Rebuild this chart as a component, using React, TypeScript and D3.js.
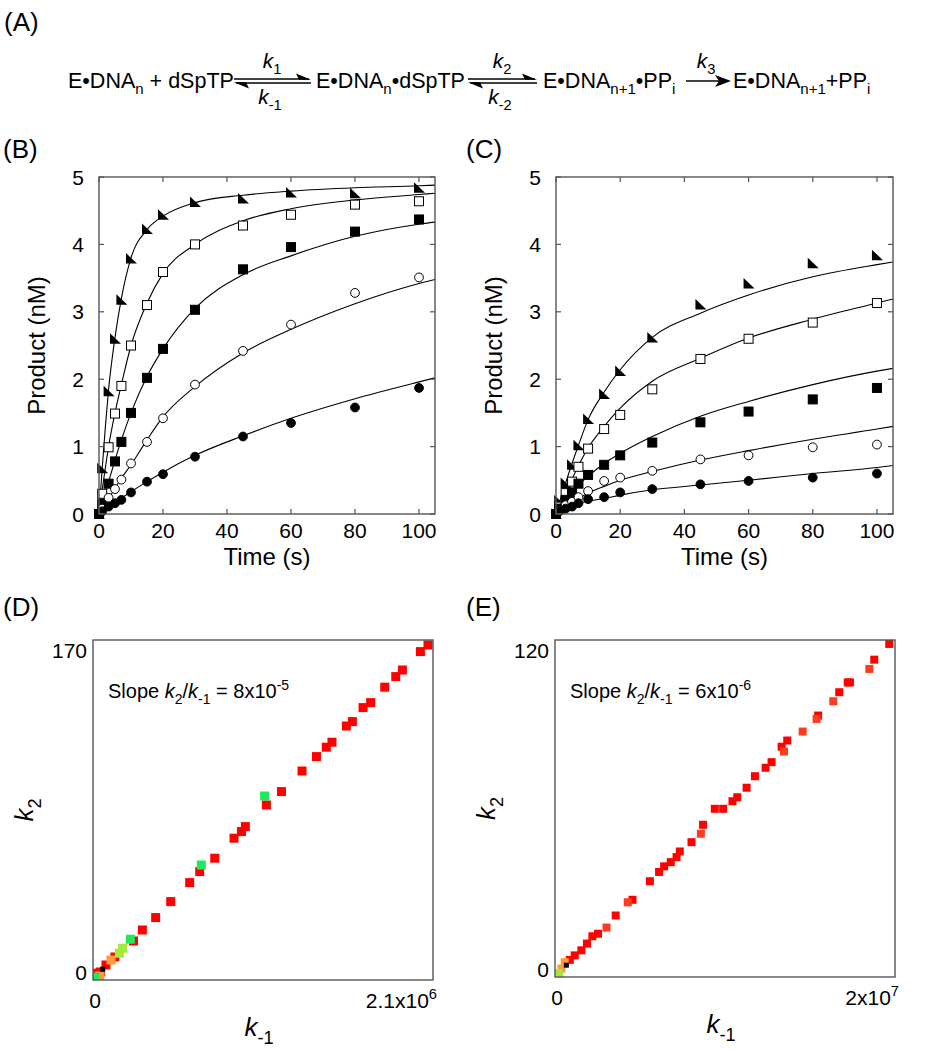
import React from 'react';
import * as d3 from 'd3';

const FONT = 'Arial, "Liberation Sans", Helvetica, sans-serif';

// ---------- Panels B & C: time courses ----------
const times = [0, 1, 3, 5, 7, 10, 15, 20, 30, 45, 60, 80, 100];

const bTri = [0, 0.68, 1.82, 2.6, 3.18, 3.79, 4.23, 4.44, 4.63, 4.68, 4.77, 4.76, 4.84];
const bOpenSq = [0, 0.3, 0.99, 1.49, 1.9, 2.5, 3.1, 3.59, 4.0, 4.28, 4.44, 4.59, 4.64];
const bFillSq = [0, 0.15, 0.45, 0.78, 1.07, 1.5, 2.02, 2.45, 3.03, 3.63, 3.96, 4.19, 4.37];
const bOpenCirc = [0, 0.08, 0.24, 0.37, 0.51, 0.75, 1.07, 1.42, 1.92, 2.42, 2.81, 3.28, 3.51];
const bFillCirc = [0, 0.04, 0.11, 0.16, 0.21, 0.32, 0.48, 0.59, 0.85, 1.15, 1.35, 1.58, 1.87];

const cTri = [0, 0.2, 0.46, 0.73, 1.02, 1.41, 1.78, 2.12, 2.62, 3.11, 3.42, 3.72, 3.84];
const cOpenSq = [0, 0.11, 0.31, 0.48, 0.7, 0.97, 1.26, 1.47, 1.85, 2.3, 2.6, 2.84, 3.13];
const cFillSq = [0, 0.08, 0.21, 0.32, 0.45, 0.58, 0.73, 0.87, 1.06, 1.36, 1.52, 1.7, 1.87];
const cOpenCirc = [0, 0.05, 0.13, 0.18, 0.25, 0.34, 0.49, 0.54, 0.64, 0.81, 0.87, 0.99, 1.03];
const cFillCirc = [0, 0.04, 0.08, 0.11, 0.16, 0.22, 0.25, 0.32, 0.37, 0.44, 0.49, 0.54, 0.6];

// fitted curves
const fitTimes = [0, 1, 2, 3, 5, 7, 10, 15, 20, 30, 45, 60, 80, 100, 105];
const bFitTri = [0, 0.68, 1.3, 1.85, 2.62, 3.2, 3.8, 4.22, 4.42, 4.62, 4.73, 4.79, 4.84, 4.87, 4.88];
const bFitOpenSq = [0, 0.36, 0.69, 1.0, 1.5, 1.92, 2.5, 3.13, 3.57, 4.0, 4.35, 4.53, 4.66, 4.74, 4.76];
const bFitFillSq = [0, 0.17, 0.33, 0.48, 0.8, 1.1, 1.5, 2.04, 2.45, 3.05, 3.55, 3.83, 4.12, 4.3, 4.33];
const bFitOpenCirc = [0, 0.08, 0.16, 0.23, 0.38, 0.53, 0.73, 1.1, 1.44, 1.89, 2.39, 2.74, 3.12, 3.42, 3.48];
const bFitFillCirc = [0, 0.035, 0.07, 0.105, 0.17, 0.235, 0.33, 0.48, 0.62, 0.87, 1.16, 1.42, 1.71, 1.96, 2.02];

const cFitTri = [0, 0.16, 0.31, 0.46, 0.75, 1.02, 1.4, 1.81, 2.14, 2.62, 2.98, 3.25, 3.52, 3.7, 3.74];
const cFitOpenSq = [0, 0.11, 0.21, 0.32, 0.52, 0.72, 0.98, 1.3, 1.57, 1.97, 2.31, 2.61, 2.89, 3.13, 3.19];
const cFitFillSq = [0, 0.07, 0.14, 0.21, 0.33, 0.43, 0.56, 0.75, 0.9, 1.15, 1.45, 1.67, 1.92, 2.12, 2.16];
const cFitOpenCirc = [0, 0.04, 0.075, 0.11, 0.18, 0.23, 0.31, 0.41, 0.5, 0.63, 0.8, 0.94, 1.11, 1.26, 1.3];
const cFitFillCirc = [0, 0.03, 0.06, 0.09, 0.13, 0.16, 0.19, 0.23, 0.28, 0.36, 0.43, 0.5, 0.6, 0.69, 0.72];

const timeTicks = [0, 20, 40, 60, 80, 100];
const productTicks = [0, 1, 2, 3, 4, 5];
const markerKinds = ['tri', 'openSq', 'fillSq', 'openCirc', 'fillCirc'];

// ---------- Panels D & E: confidence contour scatter ----------
const dKm1 = [2.069e6, 2.022e6, 1.911e6, 1.87e6, 1.802e6, 1.715e6, 1.668e6, 1.602e6, 1.565e6, 1.476e6, 1.441e6, 1.38e6, 1.291e6, 1.164e6, 1.071e6, 0.941e6, 0.917e6, 0.871e6, 0.752e6, 0.659e6, 0.597e6, 0.48e6, 0.387e6, 0.305e6, 0.25e6, 0.135e6, 0.08e6, 0.045e6, 0.029e6, 0.111e6, 0.041e6, 0.183e6, 0.163e6, 1.06e6, 0.669e6, 0.231e6, 0.012e6, 0.06e6];
const dK2 = [167.5, 164.2, 155, 151.7, 146.4, 138.7, 136.2, 129.2, 127, 118.9, 116.4, 111.7, 104.5, 94.2, 87.5, 76.7, 74.2, 70.9, 60.9, 54.2, 48.7, 39.2, 31.2, 25, 19.5, 11.5, 7.5, 4, 3.4, 10, 2, 15.9, 13.4, 92, 57.5, 20.4, 1.4, 5.4];
const dKind = ['r', 'r', 'r', 'r', 'r', 'r', 'r', 'r', 'r', 'r', 'r', 'r', 'r', 'r', 'r', 'r', 'r', 'r', 'r', 'r', 'r', 'r', 'r', 'r', 'r', 'r', 'r', 'r', 'r', 'o', 'o', 'lg', 'lg', 'g', 'g', 'g', 'g', 'k'];

const eKm1 = [1.966e7, 1.878e7, 1.849e7, 1.735e7, 1.722e7, 1.672e7, 1.637e7, 1.548e7, 1.539e7, 1.457e7, 1.366e7, 1.333e7, 1.347e7, 1.274e7, 1.239e7, 1.176e7, 1.127e7, 1.072e7, 1.044e7, 0.989e7, 0.94e7, 0.871e7, 0.858e7, 0.803e7, 0.734e7, 0.715e7, 0.681e7, 0.642e7, 0.612e7, 0.558e7, 0.456e7, 0.428e7, 0.357e7, 0.303e7, 0.253e7, 0.22e7, 0.188e7, 0.155e7, 0.116e7, 0.087e7, 0.057e7, 0.038e7, 0.024e7, 0.067e7];
const eK2 = [118.6, 113, 109.7, 104.9, 104.9, 101.4, 98.2, 93.1, 91.9, 87.4, 84.2, 82, 80.3, 76.5, 74.5, 71.5, 67.4, 64, 62.6, 59.9, 59.9, 54.2, 51, 48, 44.7, 42.7, 40.9, 39.4, 37.4, 34.1, 27.5, 26.6, 21.9, 17.6, 15.4, 14.5, 11.9, 9.5, 7.7, 6.1, 5.3, 3.0, 1.4, 4.2];
const eKind = ['r', 'r', 'r2', 'r', 'r', 'r', 'r2', 'r', 'r2', 'r2', 'r', 'r', 'r2', 'r', 'r', 'r', 'r', 'r', 'r', 'r', 'r', 'r', 'r2', 'r', 'r', 'r', 'r', 'r', 'r', 'r', 'r', 'r2', 'r', 'r2', 'r', 'r', 'r', 'r', 'r', 'r', 'o', 'o', 'lg', 'k'];

const kindColor: Record<string, string> = {
  r: '#ff0000',
  r2: '#ff3a1e',
  o: '#ff9a3c',
  lg: '#a6e83c',
  g: '#1fe85a',
  k: '#000000',
};

type Seg = { t: string; sub?: boolean; sup?: boolean; it?: boolean };

function Rich({ x, y, size, anchor = 'start', segs, rotate }: { x: number; y: number; size: number; anchor?: string; segs: Seg[]; rotate?: number }) {
  let shift = 0;
  const kids = segs.map((s, i) => {
    const target = s.sub ? size * 0.3 : s.sup ? -size * 0.42 : 0;
    const dy = target - shift;
    shift = target;
    return (
      <tspan key={i} dy={dy} fontSize={s.sub || s.sup ? size * 0.7 : size} fontStyle={s.it ? 'italic' : 'normal'}>
        {s.t}
      </tspan>
    );
  });
  return (
    <text
      x={x}
      y={y}
      fontSize={size}
      fontFamily={FONT}
      textAnchor={anchor}
      fill="#000"
      transform={rotate ? `rotate(${rotate},${x},${y})` : undefined}
      style={{ whiteSpace: 'pre' }}
    >
      {kids}
    </text>
  );
}

function EqArrow({ x1, x2, y }: { x1: number; x2: number; y: number }) {
  const yt = y - 2;
  const yb = y + 2;
  return (
    <g>
      <line x1={x1} x2={x2 - 2} y1={yt} y2={yt} stroke="#000" strokeWidth={1.4} />
      <path d={`M${x2},${yt + 0.7} L${x2 - 15},${yt - 5.5} L${x2 - 12},${yt + 0.7} Z`} fill="#000" />
      <line x1={x1 + 2} x2={x2} y1={yb} y2={yb} stroke="#000" strokeWidth={1.4} />
      <path d={`M${x1},${yb - 0.7} L${x1 + 15},${yb + 5.5} L${x1 + 12},${yb - 0.7} Z`} fill="#000" />
    </g>
  );
}

function Marker({ kind, cx, cy }: { kind: string; cx: number; cy: number }) {
  const s = 4.5;
  if (kind === 'tri') {
    return <path d={`M${cx - 5},${cy - 5.5} L${cx - 5},${cy + 5} L${cx + 6},${cy + 5} Z`} fill="#000" />;
  }
  if (kind === 'openSq' || kind === 'fillSq') {
    return (
      <rect x={cx - s} y={cy - s} width={2 * s} height={2 * s} fill={kind === 'fillSq' ? '#000' : '#fff'} stroke="#000" strokeWidth={1} />
    );
  }
  return <circle cx={cx} cy={cy} r={4.4} fill={kind === 'fillCirc' ? '#000' : '#fff'} stroke="#000" strokeWidth={1} />;
}

function KinPanel({ left, top, width, height, data, fits }: { left: number; top: number; width: number; height: number; data: number[][]; fits: number[][] }) {
  const x = d3.scaleLinear().domain([0, 105]).range([left, left + width]);
  const y = d3.scaleLinear().domain([0, 5]).range([top + height, top]);
  const line = d3
    .line<number>()
    .x((_, i) => x(fitTimes[i]))
    .y((v) => y(v))
    .curve(d3.curveMonotoneX);
  const axisColor = '#555';
  const tl = 5;
  const labX = left - 54;
  return (
    <g>
      <defs>
        <clipPath id={`clip${left}`}>
          <rect x={left} y={top - 6} width={width} height={height + 12} />
        </clipPath>
      </defs>
      <g clipPath={`url(#clip${left})`}>
        {fits.map((f, i) => (
          <path key={i} d={line(f) || ''} fill="none" stroke="#000" strokeWidth={1.1} />
        ))}
      </g>
      {data.map((series, si) =>
        series.map((v, i) => <Marker key={`${si}-${i}`} kind={markerKinds[si]} cx={x(times[i])} cy={y(v)} />)
      )}
      <rect x={left} y={top} width={width} height={height} fill="none" stroke={axisColor} strokeWidth={1.4} />
      {timeTicks.map((t) => (
        <g key={`xt${t}`}>
          <line x1={x(t)} x2={x(t)} y1={top + height} y2={top + height - tl} stroke={axisColor} strokeWidth={1.2} />
          <line x1={x(t)} x2={x(t)} y1={top} y2={top + tl} stroke={axisColor} strokeWidth={1.2} />
          <text x={x(t)} y={top + height + 24} fontSize={21} fontFamily={FONT} textAnchor="middle">
            {t}
          </text>
        </g>
      ))}
      {productTicks.map((t) => (
        <g key={`yt${t}`}>
          <line x1={left} x2={left + tl} y1={y(t)} y2={y(t)} stroke={axisColor} strokeWidth={1.2} />
          <line x1={left + width} x2={left + width - tl} y1={y(t)} y2={y(t)} stroke={axisColor} strokeWidth={1.2} />
          <text x={left - 15} y={y(t) + 7.5} fontSize={21} fontFamily={FONT} textAnchor="end">
            {t}
          </text>
        </g>
      ))}
      <text x={left + width / 2} y={top + height + 51} fontSize={24} fontFamily={FONT} textAnchor="middle">
        Time (s)
      </text>
      <text
        x={labX}
        y={top + height / 2}
        fontSize={24}
        fontFamily={FONT}
        textAnchor="middle"
        transform={`rotate(-90,${labX},${top + height / 2})`}
      >
        Product (nM)
      </text>
    </g>
  );
}

function ScatterPanel({
  left, top, width, height, xs, ys, kinds, xMax, yMax, yMaxLabel, xMaxLabel, slopeLabel, size,
}: {
  left: number; top: number; width: number; height: number; xs: number[]; ys: number[]; kinds: string[];
  xMax: number; yMax: number; yMaxLabel: string; xMaxLabel: Seg[]; slopeLabel: Seg[]; size: number;
}) {
  const x = d3.scaleLinear().domain([0, xMax]).range([left, left + width]);
  const y = d3.scaleLinear().domain([0, yMax]).range([top + height, top]);
  const order = d3.range(xs.length);
  return (
    <g>
      <defs>
        <clipPath id={`sclip${left}`}>
          <rect x={left} y={top} width={width} height={height} />
        </clipPath>
      </defs>
      <g clipPath={`url(#sclip${left})`}>
        {order.map((i) => {
          const small = kinds[i] === 'k';
          const s = small ? 5 : size;
          return (
            <rect key={i} x={x(xs[i]) - s / 2} y={y(ys[i]) - s / 2} width={s} height={s} fill={kindColor[kinds[i]]} />
          );
        })}
      </g>
      <rect x={left} y={top} width={width} height={height} fill="none" stroke="#555" strokeWidth={1.4} />
      <text x={left - 6} y={top + 18} fontSize={21} fontFamily={FONT} textAnchor="end">
        {yMaxLabel}
      </text>
      <text x={left - 6} y={top + height} fontSize={21} fontFamily={FONT} textAnchor="end">
        0
      </text>
      <text x={left + 2} y={top + height + 28} fontSize={21} fontFamily={FONT} textAnchor="middle">
        0
      </text>
      <Rich x={left + width + 4} y={top + height + 28} size={21} anchor="end" segs={xMaxLabel} />
      <Rich x={left + width / 2 - 4} y={top + height + 56} size={26} anchor="middle" segs={[{ t: 'k', it: true }, { t: '-1', sub: true }]} />
      <Rich
        x={left - 60}
        y={top + height / 2}
        size={26}
        anchor="middle"
        rotate={-90}
        segs={[{ t: 'k', it: true }, { t: '2', sub: true }]}
      />
      <Rich x={left + 15} y={top + 58} size={20} segs={slopeLabel} />
    </g>
  );
}

export default function App() {
  const mainSize = 21.5;
  const kSize = 21;
  return (
    <svg width={931} height={1050} style={{ position: 'absolute', left: 0, top: 0, background: '#fff' }} fontFamily={FONT}>
      <rect x={0} y={0} width={931} height={1050} fill="#fff" />
      {/* (A) scheme */}
      <text x={4} y={31} fontSize={26} fontFamily={FONT}>(A)</text>
      <Rich x={68} y={88} size={mainSize} segs={[{ t: 'E•DNA' }, { t: 'n', sub: true }, { t: ' + dSpTP' }]} />
      <EqArrow x1={234} x2={311} y={81} />
      <Rich x={272} y={68} size={kSize} anchor="middle" segs={[{ t: 'k', it: true }, { t: '1', sub: true }]} />
      <Rich x={270} y={104} size={kSize} anchor="middle" segs={[{ t: 'k', it: true }, { t: '-1', sub: true }]} />
      <Rich x={316} y={88} size={mainSize} segs={[{ t: 'E•DNA' }, { t: 'n', sub: true }, { t: '•dSpTP' }]} />
      <EqArrow x1={468} x2={537} y={81} />
      <Rich x={502} y={68} size={kSize} anchor="middle" segs={[{ t: 'k', it: true }, { t: '2', sub: true }]} />
      <Rich x={500} y={104} size={kSize} anchor="middle" segs={[{ t: 'k', it: true }, { t: '-2', sub: true }]} />
      <Rich x={543} y={88} size={mainSize} segs={[{ t: 'E•DNA' }, { t: 'n+1', sub: true }, { t: '•PP' }, { t: 'i', sub: true }]} />
      <g>
        <line x1={686} x2={722} y1={81} y2={81} stroke="#000" strokeWidth={1.4} />
        <path d="M731,81 L715,75 L719,81 L715,87 Z" fill="#000" />
      </g>
      <Rich x={706} y={68} size={kSize} anchor="middle" segs={[{ t: 'k', it: true }, { t: '3', sub: true }]} />
      <Rich x={733} y={88} size={mainSize} segs={[{ t: 'E•DNA' }, { t: 'n+1', sub: true }, { t: '+PP' }, { t: 'i', sub: true }]} />

      {/* (B) */}
      <text x={3} y={158} fontSize={26} fontFamily={FONT}>(B)</text>
      <KinPanel
        left={99}
        top={177}
        width={336}
        height={337}
        data={[bTri, bOpenSq, bFillSq, bOpenCirc, bFillCirc]}
        fits={[bFitTri, bFitOpenSq, bFitFillSq, bFitOpenCirc, bFitFillCirc]}
      />
      {/* (C) */}
      <text x={466} y={158} fontSize={26} fontFamily={FONT}>(C)</text>
      <KinPanel
        left={556}
        top={177}
        width={337}
        height={337}
        data={[cTri, cOpenSq, cFillSq, cOpenCirc, cFillCirc]}
        fits={[cFitTri, cFitOpenSq, cFitFillSq, cFitOpenCirc, cFitFillCirc]}
      />
      {/* (D) */}
      <text x={3} y={616} fontSize={26} fontFamily={FONT}>(D)</text>
      <ScatterPanel
        left={93}
        top={640}
        width={340}
        height={340}
        xs={dKm1}
        ys={dK2}
        kinds={dKind}
        xMax={2.1e6}
        yMax={170}
        yMaxLabel="170"
        size={9}
        xMaxLabel={[{ t: '2.1x10' }, { t: '6', sup: true }]}
        slopeLabel={[{ t: 'Slope ' }, { t: 'k', it: true }, { t: '2', sub: true }, { t: '/' }, { t: 'k', it: true }, { t: '-1', sub: true }, { t: ' = 8x10' }, { t: '-5', sup: true }]}
      />
      {/* (E) */}
      <text x={466} y={616} fontSize={26} fontFamily={FONT}>(E)</text>
      <ScatterPanel
        left={555}
        top={640}
        width={340}
        height={337}
        xs={eKm1}
        ys={eK2}
        kinds={eKind}
        xMax={2e7}
        yMax={120}
        yMaxLabel="120"
        size={8}
        xMaxLabel={[{ t: '2x10' }, { t: '7', sup: true }]}
        slopeLabel={[{ t: 'Slope ' }, { t: 'k', it: true }, { t: '2', sub: true }, { t: '/' }, { t: 'k', it: true }, { t: '-1', sub: true }, { t: ' = 6x10' }, { t: '-6', sup: true }]}
      />
    </svg>
  );
}
